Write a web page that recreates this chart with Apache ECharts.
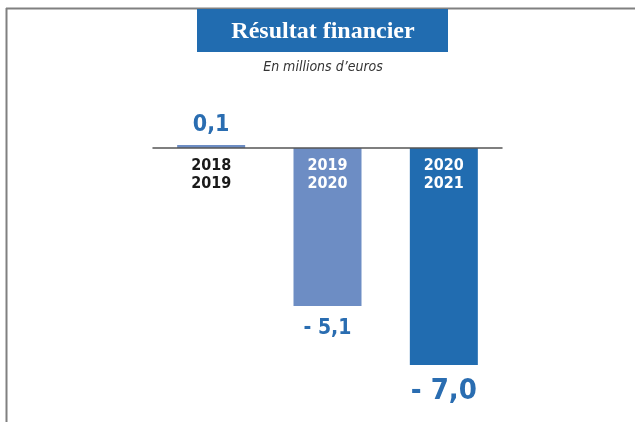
<!DOCTYPE html>
<html>
<head>
<meta charset="utf-8">
<script src="https://cdn.jsdelivr.net/npm/echarts@6/dist/echarts.min.js"></script>
<style>
html,body{margin:0;padding:0;background:#fff;}
#chart{width:635px;height:422px;}
</style>
</head>
<body>
<div id="chart"></div>
<script>
// données
var periods = ['2018\n2019', '2019\n2020', '2020\n2021'];
var values = [0.1, -5.1, -7.0];
var barColors = ['#6d8dc4', '#6d8dc4', '#216cb0'];
var periodColors = ['#1a1a1a', '#ffffff', '#ffffff'];
var labelSizes = [23, 21, 29];

var narrow = '"Liberation Sans Narrow", "DejaVu Sans Condensed", sans-serif';

function fmt(v) {
    var s = Math.abs(v).toFixed(1).replace('.', ',');
    return v < 0 ? '- ' + s : s;
}

var barData = values.map(function(v, i) {
    return {
        value: v,
        itemStyle: {color: barColors[i]},
        label: {
            show: true,
            position: v >= 0 ? 'top' : 'bottom',
            distance: v >= 0 ? 8 : 12,
            fontSize: labelSizes[i],
            fontWeight: 'bold',
            fontFamily: narrow,
            color: '#2a6db1',
            formatter: function(p) { return fmt(p.value); }
        }
    };
});

// libellés des périodes, posés sur la ligne du zéro
var periodData = periods.map(function(p, i) {
    return {
        value: 0,
        label: {
            show: true,
            position: 'bottom',
            distance: 9,
            formatter: p,
            fontSize: 16,
            lineHeight: 18,
            fontWeight: 'bold',
            fontFamily: narrow,
            color: periodColors[i],
            opacity: 1,
            textBorderWidth: 0
        }
    };
});

var myChart = echarts.init(document.getElementById('chart'), null, {renderer: 'canvas'});
var option = {
    animation: false,
    backgroundColor: '#ffffff',
    grid: {left: 153, right: 133, top: 117, bottom: 26, containLabel: false, outerBoundsMode: 'none'},
    xAxis: {
        type: 'category',
        data: periods,
        axisLine: {show: true, onZero: true, lineStyle: {color: '#555555', width: 1.5}},
        axisTick: {show: false},
        axisLabel: {show: false},
        z: 10
    },
    yAxis: {
        type: 'value',
        min: -8,
        max: 1,
        show: false,
        splitLine: {show: false}
    },
    series: [{
        type: 'bar',
        data: barData,
        barWidth: 68,
        z: 2
    }, {
        type: 'scatter',
        data: periodData,
        symbolSize: 0,
        itemStyle: {opacity: 1},
        silent: true,
        z: 20
    }],
    graphic: [
        {type: 'line', shape: {x1: 6, y1: 8.5, x2: 635, y2: 8.5}, style: {stroke: '#808080', lineWidth: 2}},
        {type: 'line', shape: {x1: 6.5, y1: 8, x2: 6.5, y2: 422}, style: {stroke: '#808080', lineWidth: 2}},
        {type: 'rect', shape: {x: 197, y: 9, width: 251, height: 43}, style: {fill: '#216cb0'}},
        {type: 'text', x: 323, y: 32, style: {
            text: 'Résultat financier', fill: '#ffffff', fontSize: 24, fontWeight: 'bold',
            fontFamily: '"Liberation Serif", "DejaVu Serif", serif', align: 'center', verticalAlign: 'middle'}},
        {type: 'text', x: 323, y: 67, style: {
            text: 'En millions d\u2019euros', fill: '#333333', fontSize: 14, fontStyle: 'italic',
            fontFamily: narrow, align: 'center', verticalAlign: 'middle'}}
    ]
};
myChart.setOption(option);
</script>
</body>
</html>
